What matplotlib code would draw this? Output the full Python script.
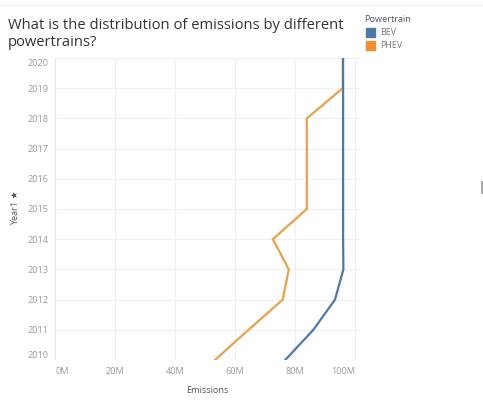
import matplotlib.pyplot as plt
import matplotlib.transforms as mtransforms
from matplotlib.patches import Rectangle

years = [2010, 2011, 2012, 2013, 2014, 2015, 2016, 2017, 2018, 2019, 2020]
bev_emissions = [76.7, 86.1, 93.3, 96.1, 96.0, 96.0, 96.0, 96.0, 96.0, 96.0, 96.0]
phev_emissions = [53.3, 64.5, 75.9, 77.9, 72.6, 83.9, 83.9, 83.9, 83.9, 95.9, 95.9]
x_ticks = [0, 20, 40, 60, 80, 100]
x_labels = ['0M', '20M', '40M', '60M', '80M', '100M']

BEV_COLOR = '#4e79a7'
PHEV_COLOR = '#eda04a'
W, H = 483, 404

plt.rcParams['font.family'] = ['Open Sans', 'DejaVu Sans']

fig = plt.figure(figsize=(W / 100, H / 100), dpi=100)
ax = fig.add_axes([55 / W, 1 - 360 / H, (359 - 55) / W, (360 - 58) / H])

ax.plot(phev_emissions, years, color=PHEV_COLOR, lw=1.6, solid_joinstyle='miter', zorder=3)
ax.plot(bev_emissions, years, color=BEV_COLOR, lw=1.6, solid_joinstyle='miter', zorder=4)

ax.set_xlim(0, 101.3)
ax.set_ylim(2010, 2020)
ax.set_xticks(x_ticks)
ax.set_xticklabels(x_labels)
ax.set_yticks(years)
ax.set_yticklabels([str(y) for y in years])
ax.tick_params(length=0, labelsize=6.6, colors='#9a9a9a', pad=5)
ax.grid(True, color='#efefef', lw=0.8)
ax.set_axisbelow(True)
for s in ax.spines.values():
    s.set_visible(False)
ax.axvline(0, color='#e6e6e6', lw=0.8, zorder=1)

# keep edge labels inside the plot like the reference
xl = ax.get_xticklabels()
xl[0].set_ha('left')
xl[-1].set_ha('right')
yl = ax.get_yticklabels()
yl[0].set_transform(yl[0].get_transform() + mtransforms.ScaledTranslation(0, 5 / 100, fig.dpi_scale_trans))
yl[-1].set_transform(yl[-1].get_transform() + mtransforms.ScaledTranslation(0, -5 / 100, fig.dpi_scale_trans))

ax.set_xlabel('Emissions', fontsize=6.6, color='#555555', labelpad=7)
fig.text(15 / W, 1 - 208 / H, 'Year1 \u2605', rotation=90, fontsize=6.6, color='#555555',
         ha='center', va='center')

fig.text(8 / W, 1 - 34 / H, 'What is the distribution of emissions by different\npowertrains?',
         fontsize=10.6, color='#333333', ha='left', va='center', linespacing=1.2)

# legend
fig.text(364 / W, 1 - 19 / H, 'Powertrain', fontsize=6.6, color='#555555', va='center')
for i, (name, c) in enumerate([('BEV', BEV_COLOR), ('PHEV', '#f28e2b')]):
    yc = 32.5 + i * 13
    fig.patches.append(Rectangle((366 / W, 1 - (yc + 4) / H), 9 / W, 8 / H,
                                 transform=fig.transFigure, color=c))
    fig.text(380 / W, 1 - yc / H, name, fontsize=6.4, color='#777777', va='center')

fig.add_artist(plt.Line2D([0, 1], [1 - 5 / H, 1 - 5 / H], color='#f0f0f0', lw=0.8))
# tiny scrollbar mark on the right edge
fig.add_artist(plt.Line2D([482 / W, 482 / W], [1 - 182 / H, 1 - 193 / H], color='#999999', lw=1.2))

fig.savefig('out.png', dpi=100)
